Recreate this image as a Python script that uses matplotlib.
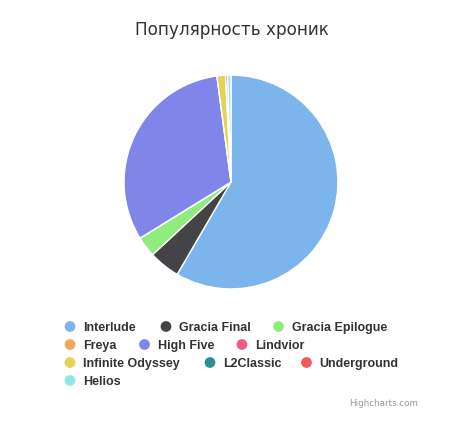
import matplotlib
matplotlib.use("Agg")
import matplotlib.pyplot as plt

# Популярность хроник, share in percent
chronicles = ['Interlude', 'Gracia Final', 'Gracia Epilogue', 'Freya', 'High Five',
              'Lindvior', 'Infinite Odyssey', 'L2Classic', 'Underground', 'Helios']
shares = [58.4, 4.7, 3.1, 0.0, 31.7, 0.0, 1.3, 0.0, 0.3, 0.5]
colors = ['#7cb5ec', '#434348', '#90ed7d', '#f7a35c', '#8085e9',
          '#f15c80', '#e4d354', '#2b908f', '#f45b5b', '#91e8e1']

W, H = 469, 431
fig = plt.figure(figsize=(W / 100, H / 100), dpi=100)

# pie, centre (231,183) px, radius 108 px
cx, cy, r = 231, 183, 108
ax = fig.add_axes([(cx - r) / W, (H - cy - r) / H, 2 * r / W, 2 * r / H])
ax.pie(shares, colors=colors, startangle=90, counterclock=False,
       wedgeprops=dict(edgecolor='white', linewidth=1))
ax.set_xlim(-1.01, 1.01)
ax.set_ylim(-1.01, 1.01)
ax.set_aspect('equal')

# overlay in pixel coords for title, legend, credits
ov = fig.add_axes([0, 0, 1, 1], zorder=-1)
ov.set_xlim(0, W)
ov.set_ylim(H, 0)
ov.axis('off')

ov.text(232, 30, 'Популярность хроник', ha='center', va='center',
        fontsize=12.2, color='#333333')

# highcharts style flowing legend
rows = [[0, 1, 2], [3, 4, 5], [6, 7, 8], [9]]
row_y = [327.5, 345.5, 363.5, 381.5]
col_x = [[70, 166, 278.5], [70, 144.5, 242], [70, 210, 306.5], [70]]
for row, y, xs in zip(rows, row_y, col_x):
    for i, x in zip(row, xs):
        ov.scatter([x], [y], s=60, color=colors[i], edgecolors='none')
        ov.text(x + 13, y + 0.5, chronicles[i], ha='left', va='center',
                fontsize=9, fontweight='bold', color='#333333',
                family='Liberation Sans')

ov.text(418, 404, 'Highcharts.com', ha='right', va='center',
        fontsize=6.3, color='#999999')

fig.savefig('out.png', dpi=100)
